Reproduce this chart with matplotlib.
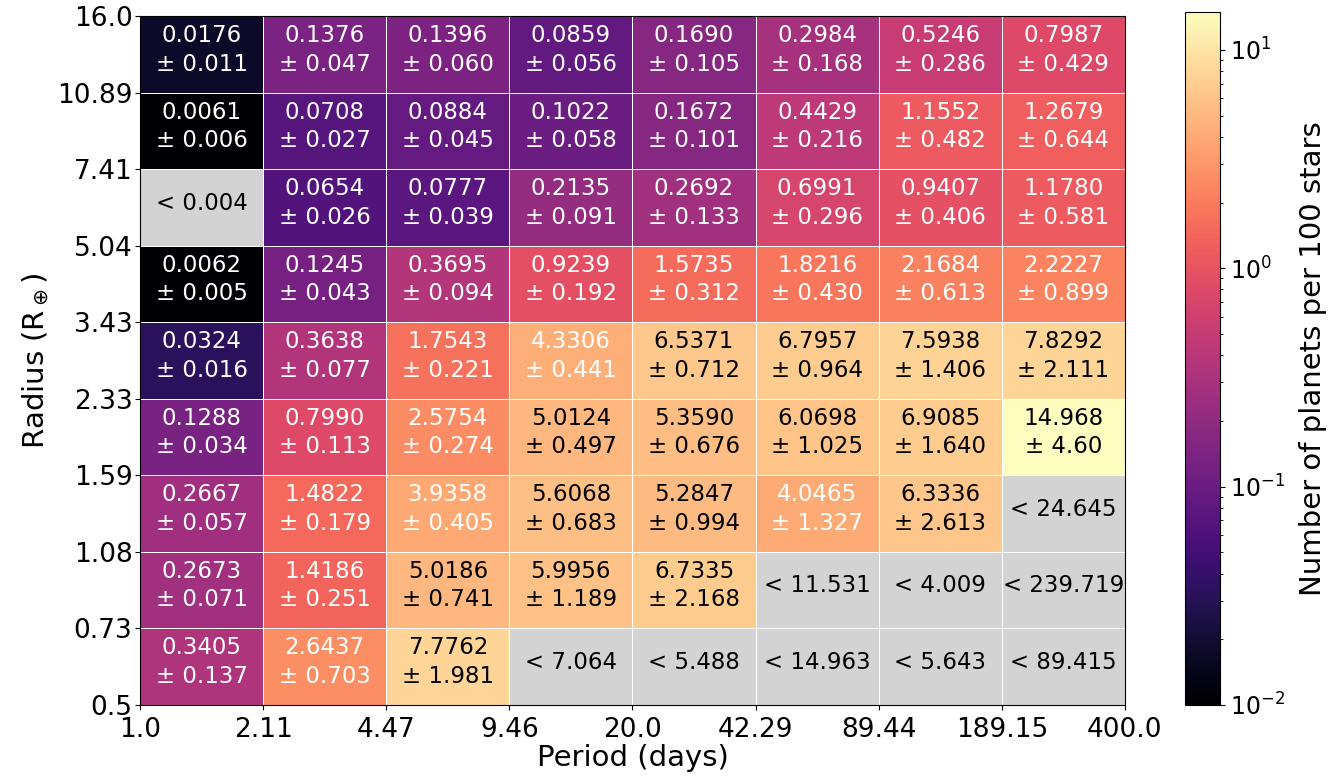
import numpy as np
import matplotlib
matplotlib.use("Agg")
import matplotlib.pyplot as plt
from matplotlib.colors import LogNorm

# bin edges
period_edges = [1.0, 2.11, 4.47, 9.46, 20.0, 42.29, 89.44, 189.15, 400.0]
radius_edges = [0.5, 0.73, 1.08, 1.59, 2.33, 3.43, 5.04, 7.41, 10.89, 16.0]

# occurrence rates, rows from largest radius bin down to smallest (nan = upper limit only)
nan = np.nan
rates = [
    [0.0176, 0.1376, 0.1396, 0.0859, 0.1690, 0.2984, 0.5246, 0.7987],
    [0.0061, 0.0708, 0.0884, 0.1022, 0.1672, 0.4429, 1.1552, 1.2679],
    [nan,    0.0654, 0.0777, 0.2135, 0.2692, 0.6991, 0.9407, 1.1780],
    [0.0062, 0.1245, 0.3695, 0.9239, 1.5735, 1.8216, 2.1684, 2.2227],
    [0.0324, 0.3638, 1.7543, 4.3306, 6.5371, 6.7957, 7.5938, 7.8292],
    [0.1288, 0.7990, 2.5754, 5.0124, 5.3590, 6.0698, 6.9085, 14.968],
    [0.2667, 1.4822, 3.9358, 5.6068, 5.2847, 4.0465, 6.3336, nan],
    [0.2673, 1.4186, 5.0186, 5.9956, 6.7335, nan,    nan,    nan],
    [0.3405, 2.6437, 7.7762, nan,    nan,    nan,    nan,    nan],
]
errors = [
    [0.011, 0.047, 0.060, 0.056, 0.105, 0.168, 0.286, 0.429],
    [0.006, 0.027, 0.045, 0.058, 0.101, 0.216, 0.482, 0.644],
    [nan,   0.026, 0.039, 0.091, 0.133, 0.296, 0.406, 0.581],
    [0.005, 0.043, 0.094, 0.192, 0.312, 0.430, 0.613, 0.899],
    [0.016, 0.077, 0.221, 0.441, 0.712, 0.964, 1.406, 2.111],
    [0.034, 0.113, 0.274, 0.497, 0.676, 1.025, 1.640, 4.60],
    [0.057, 0.179, 0.405, 0.683, 0.994, 1.327, 2.613, nan],
    [0.071, 0.251, 0.741, 1.189, 2.168, nan,   nan,   nan],
    [0.137, 0.703, 1.981, nan,   nan,   nan,   nan,   nan],
]
upper_limits = [
    [nan, nan, nan, nan, nan, nan, nan, nan],
    [nan, nan, nan, nan, nan, nan, nan, nan],
    [0.004, nan, nan, nan, nan, nan, nan, nan],
    [nan, nan, nan, nan, nan, nan, nan, nan],
    [nan, nan, nan, nan, nan, nan, nan, nan],
    [nan, nan, nan, nan, nan, nan, nan, nan],
    [nan, nan, nan, nan, nan, nan, nan, 24.645],
    [nan, nan, nan, nan, nan, 11.531, 4.009, 239.719],
    [nan, nan, nan, 7.064, 5.488, 14.963, 5.643, 89.415],
]

rates = np.array(rates)[::-1]
errors = np.array(errors)[::-1]
upper_limits = np.array(upper_limits)[::-1]

ny, nx = rates.shape

cmap = plt.get_cmap("magma").copy()
cmap.set_bad("lightgray")
norm = LogNorm(vmin=0.01, vmax=np.nanmax(rates))

fig = plt.figure(figsize=(13.39, 7.79), dpi=100)
ax = fig.add_axes([0.1046, 0.095, 0.7355, 0.884])
cax = fig.add_axes([0.885, 0.095, 0.0265, 0.89])

mesh = ax.pcolormesh(np.arange(nx + 1), np.arange(ny + 1),
                     np.ma.masked_invalid(rates), cmap=cmap, norm=norm,
                     edgecolor="white", linewidth=0.7)


def fmt_cell(v, e):
    s = f"{v:.4f}"[:6]
    nd = len(s.split(".")[1]) - 1
    return f"{s}\n\u00b1 {e:.{nd}f}"


for i in range(ny):
    for j in range(nx):
        v = rates[i, j]
        if np.isnan(v):
            txt = f"< {upper_limits[i, j]:.3f}"
            col = "black"
        else:
            txt = fmt_cell(v, errors[i, j])
            col = "white" if v < 4.5 else "black"
        ax.text(j + 0.5, i + 0.56, txt, ha="center", va="center",
                color=col, fontsize=16.5, linespacing=1.3)

ax.set_xlim(0, nx)
ax.set_ylim(0, ny)
ax.set_xticks(np.arange(nx + 1))
ax.set_xticklabels([str(p) for p in period_edges])
ax.set_yticks(np.arange(ny + 1))
ax.set_yticklabels([str(r) for r in radius_edges])
ax.tick_params(labelsize=19)
ax.tick_params(axis="x", pad=5)
ax.tick_params(axis="y", pad=2)
ax.set_xlabel("Period (days)", fontsize=21, labelpad=1)
ax.set_ylabel(r"Radius (R$_\oplus$)", fontsize=21)

cb = fig.colorbar(mesh, cax=cax)
cb.ax.tick_params(labelsize=17)
cb.set_label("Number of planets per 100 stars", fontsize=21, labelpad=10)

fig.savefig("out.png", dpi=100)
